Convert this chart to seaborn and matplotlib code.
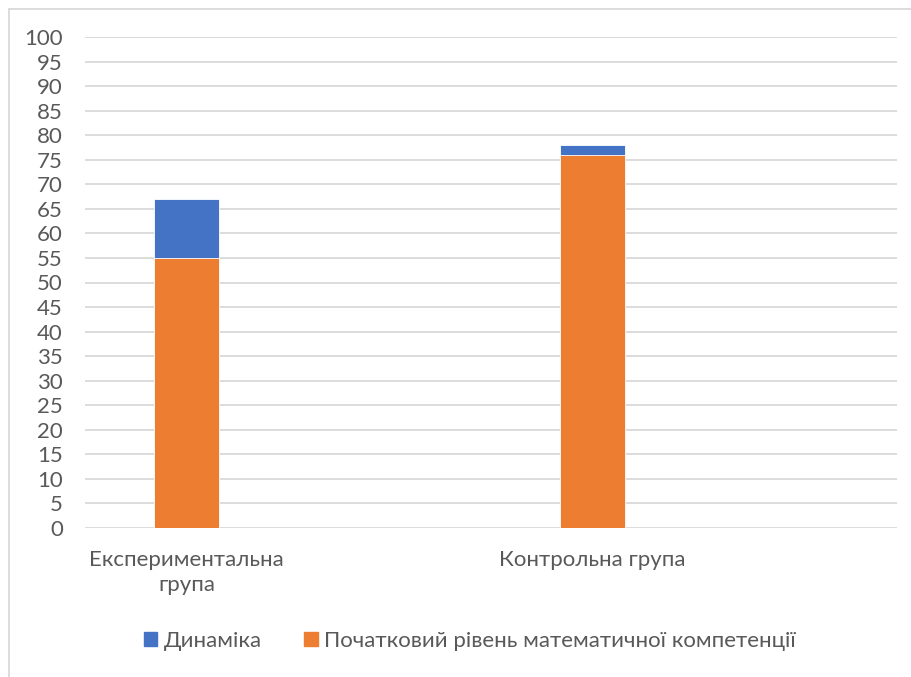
import matplotlib
matplotlib.use("Agg")
import matplotlib.pyplot as plt
import matplotlib.lines as mlines
import matplotlib.patches as mpatches
import seaborn as sns
import pandas as pd

# Data
categories = ["Експериментальна\nгрупа", "Контрольна група"]
initial_level = [55, 76]      # Початковий рівень математичної компетенції
dynamics = [12, 2]            # Динаміка (приріст)
y_ticks = list(range(0, 101, 5))

series_dynamics = "Динаміка"
series_initial = "Початковий рівень математичної компетенції"

blue = "#4472C4"
orange = "#ED7D31"
text_color = "#595959"
grid_color = "#D9D9D9"

sns.set_theme(style="white")
plt.rcParams["font.family"] = ["Lato", "DejaVu Sans"]

totals = [a + b for a, b in zip(initial_level, dynamics)]
df = pd.DataFrame({"group": categories, "initial": initial_level, "total": totals})

fig = plt.figure(figsize=(9.12, 6.77), dpi=100)
ax = fig.add_axes([85 / 912, 1 - 528 / 677, (897 - 85) / 912, (528 - 37) / 677])

# stacked bars: total height in blue, initial level drawn over it in orange
sns.barplot(data=df, x="group", y="total", color=blue, saturation=1,
            width=0.158, ax=ax, edgecolor="white", linewidth=0.6)
sns.barplot(data=df, x="group", y="initial", color=orange, saturation=1,
            width=0.158, ax=ax, edgecolor="white", linewidth=0.6)

ax.set_xlim(-0.25, 1.75)
ax.set_ylim(0, 100)
ax.set_yticks(y_ticks)
ax.set_yticklabels([str(t) for t in y_ticks])
ax.set_xlabel("")
ax.set_ylabel("")
ax.set_axisbelow(True)
ax.yaxis.grid(True, color=grid_color, linewidth=1.3)
ax.xaxis.grid(False)
for s in ax.spines.values():
    s.set_visible(False)
ax.tick_params(axis="y", length=0, pad=16, labelsize=16, labelcolor=text_color)
ax.tick_params(axis="x", length=0, pad=16, labelsize=16, labelcolor=text_color)
for lbl in ax.get_xticklabels():
    lbl.set_linespacing(1.3)

# chart-area border (top and left edges)
fig.add_artist(mlines.Line2D([9 / 912, 1], [1 - 9 / 677, 1 - 9 / 677],
                             color=grid_color, linewidth=1.3))
fig.add_artist(mlines.Line2D([9 / 912, 9 / 912], [0, 1 - 9 / 677],
                             color=grid_color, linewidth=1.3))

handles = [mpatches.Patch(color=blue, label=series_dynamics),
           mpatches.Patch(color=orange, label=series_initial)]
leg = fig.legend(handles=handles, loc="center", bbox_to_anchor=(470 / 912, 1 - 641 / 677),
                 ncol=2, frameon=False, fontsize=16, handlelength=0.6, handleheight=0.6,
                 handletextpad=0.3, columnspacing=1.9)
for t in leg.get_texts():
    t.set_color(text_color)

fig.savefig("out.png", dpi=100, facecolor="white")
